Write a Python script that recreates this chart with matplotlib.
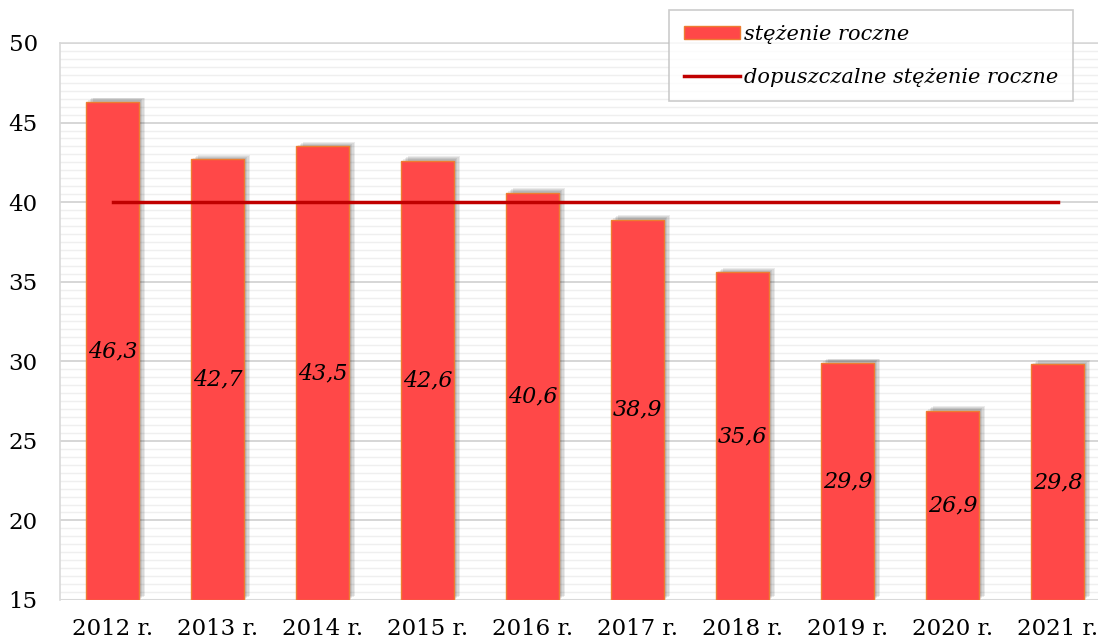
import numpy as np
import matplotlib
matplotlib.use("Agg")
import matplotlib.pyplot as plt
import matplotlib.patheffects as pe
from matplotlib.ticker import MultipleLocator

years = ["2012 r.", "2013 r.", "2014 r.", "2015 r.", "2016 r.",
         "2017 r.", "2018 r.", "2019 r.", "2020 r.", "2021 r."]
values = [46.3, 42.7, 43.5, 42.6, 40.6, 38.9, 35.6, 29.9, 26.9, 29.8]
limit = [40] * len(years)
labels = ["46,3", "42,7", "43,5", "42,6", "40,6", "38,9", "35,6", "29,9", "26,9", "29,8"]

plt.rcParams["font.family"] = ["DejaVu Serif"]

fig = plt.figure(figsize=(10.98, 6.41), dpi=100)
ax = fig.add_axes([60 / 1098, 41 / 641, 1050 / 1098, 557 / 641])

x = np.arange(len(years))
# soft shadow faked with a few stacked offset shadows
shadow = [pe.SimplePatchShadow(offset=(o, o * 0.7), shadow_rgbFace="black", alpha=0.08)
          for o in (4.5, 3.5, 2.5, 1.5)] + [pe.Normal()]
bars = ax.bar(x, np.array(values) - 15, bottom=15, width=0.5, color="#FF4848",
              edgecolor="#ED7D31", linewidth=1.0, zorder=3,
              label="stężenie roczne")
for b in bars:
    b.set_path_effects(shadow)

ax.plot(x, limit, color="#C00000", lw=2.5, zorder=4,
        label="dopuszczalne stężenie roczne")

for xi, v, t in zip(x, values, labels):
    ax.text(xi, (15 + v) / 2, t, ha="center", va="center", style="italic",
            fontsize=16, color="black", zorder=5)

ax.set_xlim(-0.5, len(years) - 0.5)
ax.set_ylim(15, 50)
ax.yaxis.set_major_locator(MultipleLocator(5))
ax.yaxis.set_minor_locator(MultipleLocator(0.5))
ax.grid(axis="y", which="major", color="#D0D0D0", lw=1.2, zorder=0)
ax.grid(axis="y", which="minor", color="#EFEFEF", lw=1.0, zorder=0)
ax.set_axisbelow(True)

ax.set_xticks(x)
ax.set_xticklabels(years)
ax.tick_params(axis="both", which="both", length=0)
ax.tick_params(axis="x", pad=13, labelsize=16.5)
ax.tick_params(axis="y", pad=16, labelsize=16.5)

for s in ["right", "bottom"]:
    ax.spines[s].set_visible(False)
for s in ["left", "top"]:
    ax.spines[s].set_color("#D9D9D9")
    ax.spines[s].set_linewidth(1.2)
ax.axhline(15, color="#D9D9D9", lw=1.5, zorder=1)

handles, names = ax.get_legend_handles_labels()
order = [names.index("stężenie roczne"), names.index("dopuszczalne stężenie roczne")]
leg = ax.legend([handles[i] for i in order], [names[i] for i in order],
                loc="upper right", bbox_to_anchor=(1013 / 1050, 1.0 + 33 / 557),
                prop={"style": "italic", "size": 15}, frameon=True, fancybox=False,
                borderpad=0.7, labelspacing=1.15, handlelength=2.7, handleheight=0.6,
                handletextpad=0.2, borderaxespad=0)
leg.get_frame().set_edgecolor("#BFBFBF")
leg.get_frame().set_linewidth(1.2)
for h in leg.legend_handles:
    h.set_path_effects([])

fig.savefig("out.png", dpi=100)
